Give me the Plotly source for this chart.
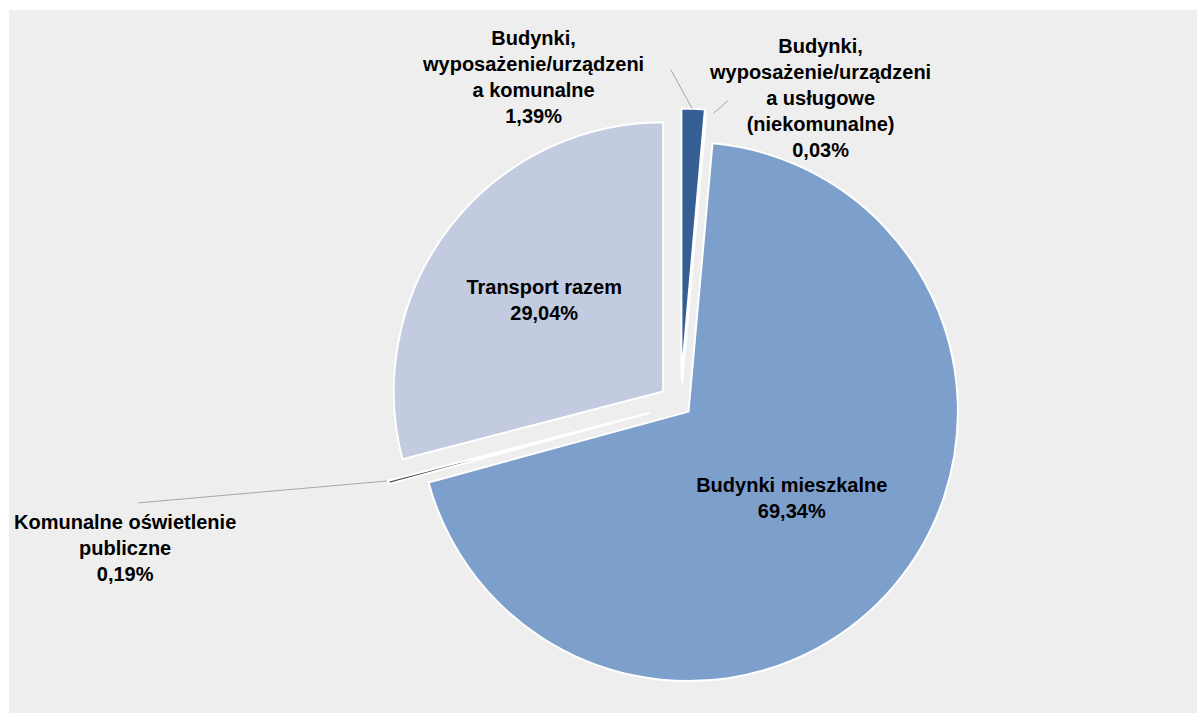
import plotly.graph_objects as go

# Data (shares in %)
labels = [
    "Budynki, wyposażenie/urządzenia komunalne",
    "Budynki, wyposażenie/urządzenia usługowe (niekomunalne)",
    "Budynki mieszkalne",
    "Komunalne oświetlenie publiczne",
    "Transport razem",
]
label_lines = [
    "Budynki,<br>wyposażenie/urządzeni<br>a komunalne",
    "Budynki,<br>wyposażenie/urządzeni<br>a usługowe<br>(niekomunalne)",
    "Budynki mieszkalne",
    "Komunalne oświetlenie<br>publiczne",
    "Transport razem",
]
values = [1.39, 0.03, 69.34, 0.19, 29.04]
colors = ["#355f94", "#4a74ad", "#7d9fcc", "#424b59", "#c2cbdf"]
pulls = [0.10, 0.08, 0.04, 0.12, 0.08]
inside = [False, False, True, False, True]


def pct(v):
    return f"{v:.2f}".replace(".", ",") + "%"


texts = [f"<b>{l}<br>{pct(v)}</b>" for l, v in zip(label_lines, values)]

FONT = "Liberation Sans, Arial, sans-serif"
FS = 20

fig = go.Figure()
fig.add_trace(go.Pie(
    labels=labels,
    values=values,
    text=texts,
    texttemplate="%{text}",
    textposition=["inside" if i else "none" for i in inside],
    insidetextorientation="horizontal",
    insidetextfont=dict(family=FONT, size=FS, color="#000000"),
    sort=False,
    direction="clockwise",
    rotation=0,
    pull=pulls,
    marker=dict(colors=colors, line=dict(color="#ffffff", width=2)),
    showlegend=False,
    hoverinfo="label+percent",
    domain=dict(x=[0.311, 0.819], y=[0.009, 0.868]),
))

# outside labels for the small slices
ann_pos = {
    0: dict(x=0.441, y=0.905),
    1: dict(x=0.683, y=0.875),
    3: dict(x=0.098, y=0.235),
}
for i, p in ann_pos.items():
    fig.add_annotation(
        x=p["x"], y=p["y"], xref="paper", yref="paper",
        text=texts[i], showarrow=False, align="center",
        font=dict(family=FONT, size=FS, color="#000000"),
        xanchor="center", yanchor="middle",
    )

# leader lines (slice end -> label)
leaders = [
    dict(x=0.575, y=0.86, ax=-22, ay=-40),
    dict(x=0.593, y=0.853, ax=16, ay=-14),
    dict(x=0.318, y=0.33, ax=-250, ay=22),
]
for l in leaders:
    fig.add_annotation(
        x=l["x"], y=l["y"], xref="paper", yref="paper", text="",
        showarrow=True, arrowhead=0, arrowwidth=1, arrowcolor="#a6a6a6",
        ax=l["ax"], ay=l["ay"], standoff=0, startstandoff=0,
    )

fig.update_layout(
    width=1197, height=713,
    margin=dict(l=9, t=10, r=0, b=0),
    paper_bgcolor="#ffffff",
    shapes=[dict(type="rect", xref="paper", yref="paper", x0=0, x1=1, y0=0, y1=1,
                 fillcolor="#eeeeee", line=dict(width=0), layer="below")],
)

fig.write_html("out.html", config={"displayModeBar": False},
               post_script="document.body.style.margin='0';")
